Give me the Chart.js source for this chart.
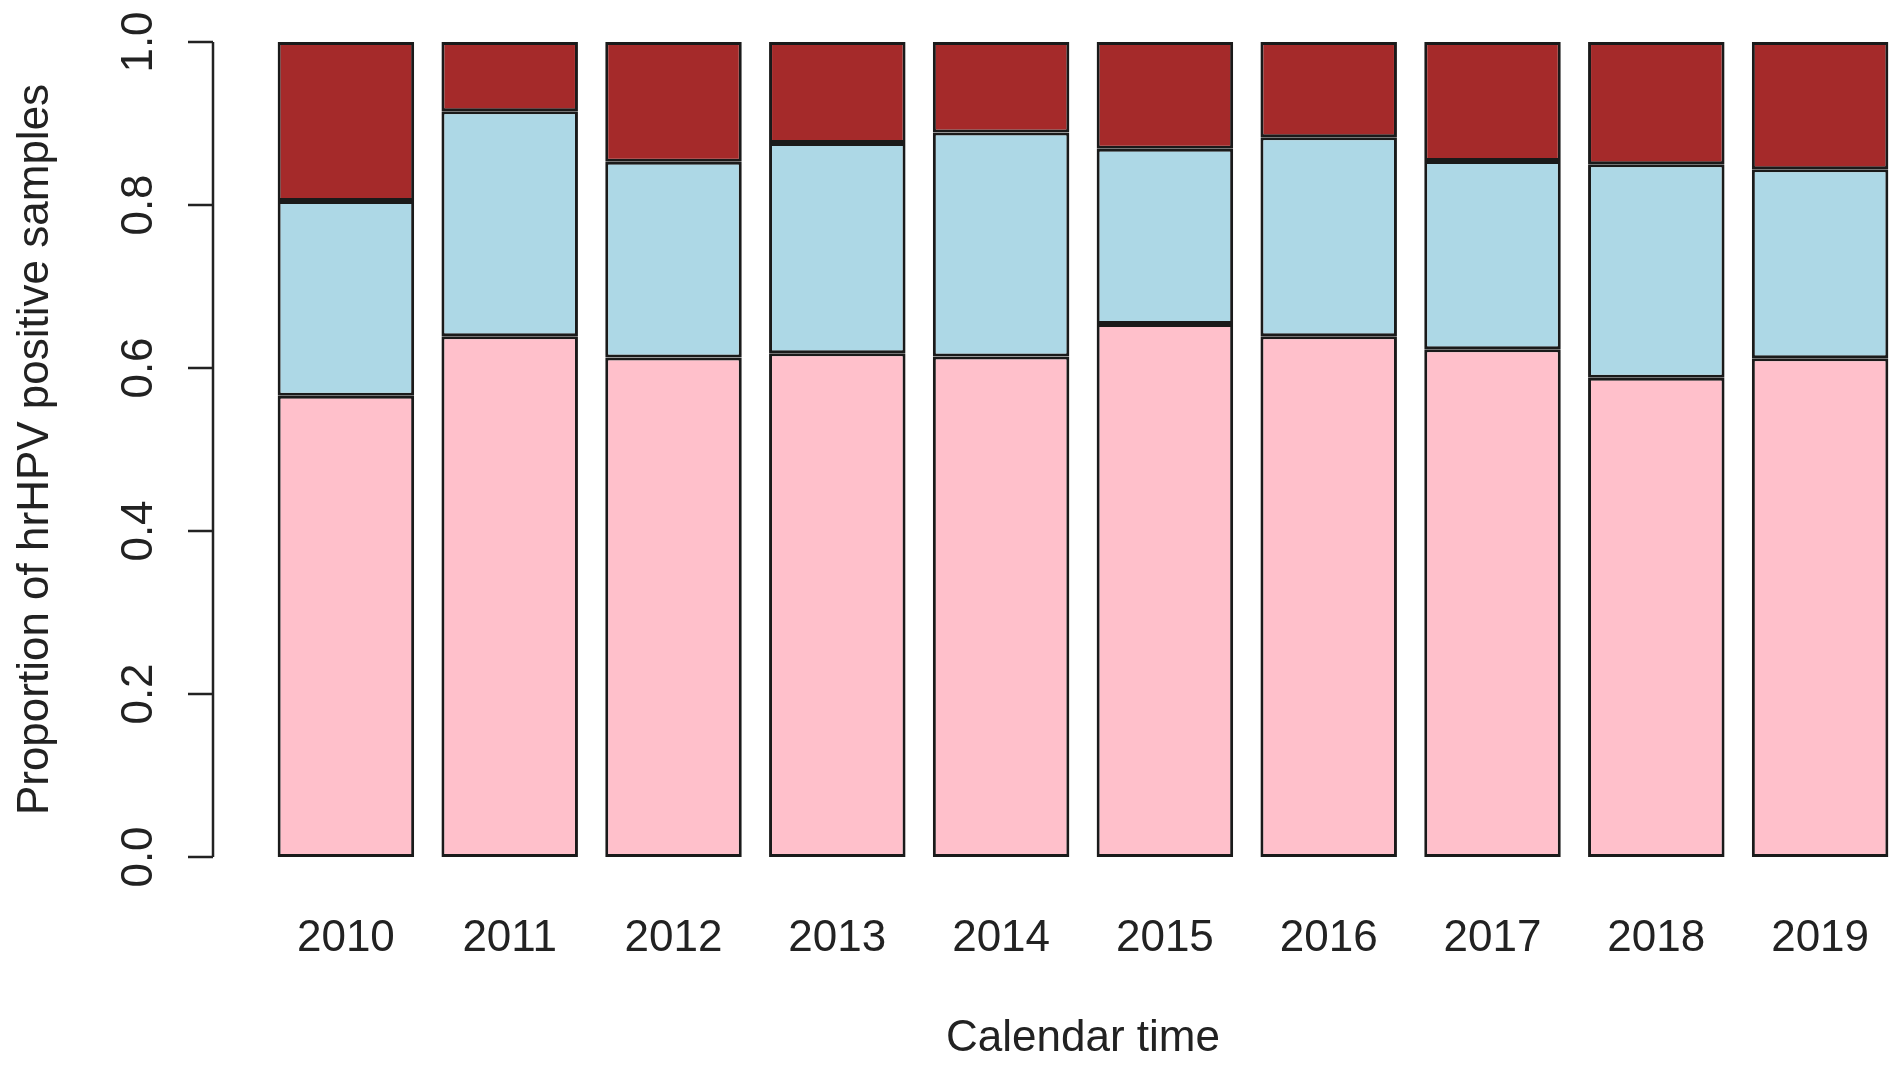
<!DOCTYPE html>
<html>
<head>
<meta charset="utf-8">
<script src="https://cdn.jsdelivr.net/npm/chart.js@4/dist/chart.umd.min.js"></script>
<style>
  html, body { margin: 0; padding: 0; background: #fff; }
  canvas { display: block; }
</style>
</head>
<body>
<canvas id="hpvChart" width="1902" height="1069"></canvas>
<script>
// categories
var years = ['2010', '2011', '2012', '2013', '2014', '2015', '2016', '2017', '2018', '2019'];

// proportions (bottom to top)
var pinkShare = [0.566, 0.639, 0.613, 0.618, 0.614, 0.654, 0.639, 0.623, 0.588, 0.612];
var blueShare = [0.239, 0.276, 0.240, 0.258, 0.275, 0.215, 0.244, 0.231, 0.262, 0.232];
var brownShare = [0.195, 0.085, 0.147, 0.124, 0.111, 0.131, 0.117, 0.146, 0.150, 0.156];

// y tick labels
var yTicks = [0, 0.2, 0.4, 0.6, 0.8, 1.0];
var yTickLabels = ['0.0', '0.2', '0.4', '0.6', '0.8', '1.0'];

var textColor = '#222';
var fontFamily = '"Liberation Sans", Arial, Helvetica, sans-serif';

function barSet(label, values, colour) {
  return {
    label: label,
    data: values,
    backgroundColor: colour,
    borderColor: '#1a1a1a',
    borderWidth: 3,
    borderSkipped: false,
    barPercentage: 1,
    categoryPercentage: 1 / 1.2,
  };
}

// R style y axis, drawn apart from the plot region
var rAxis = {
  id: 'rAxis',
  afterDraw: function (chart) {
    var ctx = chart.ctx;
    var y = chart.scales.y;
    var axisX = 213;
    ctx.save();
    ctx.strokeStyle = '#222';
    ctx.lineWidth = 2.5;
    ctx.beginPath();
    ctx.moveTo(axisX, y.getPixelForValue(0));
    ctx.lineTo(axisX, y.getPixelForValue(1));
    yTicks.forEach(function (v) {
      var py = y.getPixelForValue(v);
      ctx.moveTo(axisX, py);
      ctx.lineTo(188, py);
    });
    ctx.stroke();

    ctx.fillStyle = textColor;
    ctx.font = '44px ' + fontFamily;
    ctx.textAlign = 'center';
    ctx.textBaseline = 'middle';
    yTicks.forEach(function (v, i) {
      ctx.save();
      ctx.translate(140, y.getPixelForValue(v));
      ctx.rotate(-Math.PI / 2);
      ctx.fillText(yTickLabels[i], 0, 0);
      ctx.restore();
    });

    ctx.save();
    ctx.translate(36, (y.getPixelForValue(0) + y.getPixelForValue(1)) / 2);
    ctx.rotate(-Math.PI / 2);
    ctx.fillText('Proportion of hrHPV positive samples', 0, 0);
    ctx.restore();
    ctx.restore();
  },
};

var ctx = document.getElementById('hpvChart').getContext('2d');
var hpvChart = new Chart(ctx, {
  type: 'bar',
  data: {
    labels: years,
    datasets: [
      barSet('pink', pinkShare, '#FFC0CB'),
      barSet('lightblue', blueShare, '#ADD8E6'),
      barSet('brown', brownShare, '#A52A2A'),
    ],
  },
  options: {
    responsive: false,
    animation: false,
    devicePixelRatio: 1,
    layout: {
      padding: { left: 264, right: 0, top: 42, bottom: 0 },
    },
    plugins: {
      legend: { display: false },
      tooltip: { enabled: false },
    },
    scales: {
      x: {
        stacked: true,
        afterFit: function (scale) { scale.height = 212; },
        grid: {
          display: true,
          drawOnChartArea: false,
          drawTicks: true,
          tickLength: 55,
          color: 'rgba(0,0,0,0)',
        },
        border: { display: false },
        ticks: {
          color: textColor,
          font: { size: 44, family: fontFamily },
          padding: 0,
          maxRotation: 0,
        },
        title: {
          display: true,
          text: 'Calendar time',
          color: textColor,
          font: { size: 44, family: fontFamily },
          padding: { top: 0, bottom: 4 },
        },
      },
      y: {
        stacked: true,
        display: false,
        min: 0,
        max: 1,
      },
    },
  },
  plugins: [rAxis],
});
</script>
</body>
</html>
